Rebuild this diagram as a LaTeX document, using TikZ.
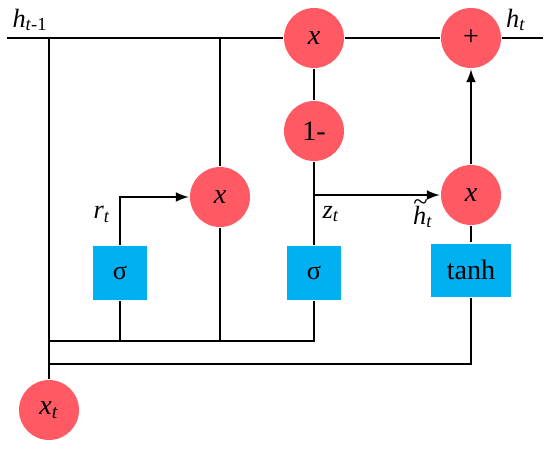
\documentclass[tikz,border=0pt]{standalone}
\usepackage{fontspec}
\setmainfont{Liberation Serif}
\usepackage{amssymb}
\usepackage{tikz}
\usetikzlibrary{calc,arrows}

\definecolor{gatered}{HTML}{FF5A64}
\definecolor{gateblue}{HTML}{00B0F0}

\begin{document}
\begin{tikzpicture}[x=0.02cm, y=-0.02cm, line width=1.5pt,
    op/.style={circle, fill=gatered, inner sep=0pt, minimum size=1.2cm, font=\fontsize{16}{18}\selectfont},
    sig/.style={rectangle, fill=gateblue, inner sep=0pt, minimum width=1.08cm, minimum height=1.08cm, font=\fontsize{15}{18}\selectfont},
    candbox/.style={rectangle, fill=gateblue, inner sep=0pt, minimum width=1.6cm, minimum height=1.06cm, font=\fontsize{16}{18}\selectfont},
    lbl/.style={font=\fontsize{15}{18}\selectfont, inner sep=0pt}]
      \useasboundingbox (0,0) rectangle (550,450);
      % operations
      \node[op] (xt) at (49,410) {\textit{x}\textsubscript{\textit{t}}};
      \node[op] (rmul) at (220,197) {\textit{x}};
      \node[op] (zmul) at (314,38) {\textit{x}};
      \node[op] (oneminus) at (314,131) {1-};
      \node[op] (plus) at (471,38) {+};
      \node[op] (hmul) at (471,195) {\textit{x}};
      % gates
      \node[sig] (rgate) at (120,273) {σ};
      \node[sig] (zgate) at (314,273) {σ};
      \node[candbox] (cand) at (471,270) {tanh};
      % junctions
      \coordinate (hin) at (7,38);
      \coordinate (hout) at (543,38);
      \coordinate (hsplit) at (49,38);
      \coordinate (hr) at (220,38);
      \coordinate (busa) at (49,341);
      \coordinate (busb) at (49,364);
      \coordinate (zt) at (314,195);
      % state line
      \draw (hin) -- (zmul.west);
      \draw (zmul.east) -- (plus.west);
      \draw (plus.east) -- (hout);
      \draw (hsplit) -- (xt.north);
      \draw (hr) -- (rmul.north);
      \draw (rmul.south) -- (rmul |- busa);
      % input buses
      \draw (busa) -| (zgate.south);
      \draw (busb) -| (cand.south);
      \draw (rgate.south) -- (rgate.south |- busa);
      \draw[-latex] (rgate.north) |- (rmul.west);
      % update gate
      \draw (zmul.south) -- (oneminus.north);
      \draw (oneminus.south) -- (zgate.north);
      \draw[-latex] (zt) -- (hmul.west);
      \draw (cand.north) -- (hmul.south);
      \draw[-latex] (hmul.north) -- (plus.south);
      % labels
      \node[lbl] (hprev) at (30,20) {\textit{h}\textsubscript{\textit{t}-1}};
      \node[lbl] (hnext) at (516,20) {\textit{h}\textsubscript{\textit{t}}};
      \node[lbl] (rlab) at (102,214) {\textit{r}\textsubscript{\textit{t}}};
      \node[lbl] (zlab) at (331,214) {\textit{z}\textsubscript{\textit{t}}};
      \node[lbl] (hlab) at (423,214) {\makebox[0pt][l]{\raisebox{0.5em}{\textit{\textasciitilde}}}\textit{h}\textsubscript{\textit{t}}};
    \end{tikzpicture}
\end{document}
